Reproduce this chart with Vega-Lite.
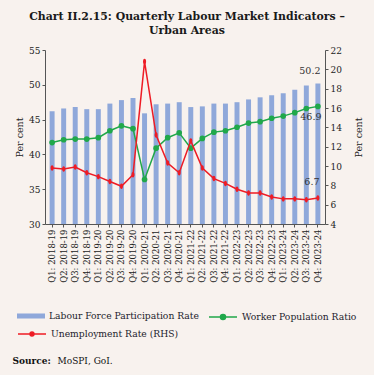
{
  "$schema": "https://vega.github.io/schema/vega-lite/v6.json",
  "autosize": {"type": "none"},
  "width": 280,
  "height": 174,
  "padding": {"left": 45, "top": 50, "right": 49, "bottom": 151},
  "background": "#F8F2EE",
  "title": {
    "text": ["Chart II.2.15: Quarterly Labour Market Indicators –", "Urban Areas"],
    "font": "DejaVu Serif",
    "fontSize": 10.9,
    "fontWeight": "bold",
    "color": "#1a1a1a",
    "anchor": "middle",
    "frame": "group",
    "lineHeight": 14,
    "offset": 10,
    "dx": 2
  },
  "config": {
    "view": {"stroke": null},
    "axis": {
      "grid": false,
      "labelFont": "DejaVu Serif",
      "labelFontSize": 9,
      "labelColor": "#222",
      "labelOverlap": false,
      "titleFont": "DejaVu Serif",
      "titleFontSize": 9.5,
      "titleFontWeight": "normal",
      "titleColor": "#222",
      "domainColor": "#555",
      "tickColor": "#555",
      "tickSize": 3,
      "labelPadding": 2
    },
    "legend": {
      "labelFont": "DejaVu Serif",
      "labelFontSize": 9.2,
      "labelColor": "#1c1c2c",
      "labelOffset": 4,
      "padding": 0,
      "title": null
    }
  },
  "data": {
    "values": [
      {"q": "Q1: 2018-19", "lfpr": 46.2, "wpr": 41.7, "ur": 9.8},
      {"q": "Q2: 2018-19", "lfpr": 46.6, "wpr": 42.1, "ur": 9.7},
      {"q": "Q3: 2018-19", "lfpr": 46.8, "wpr": 42.2, "ur": 9.9},
      {"q": "Q4: 2018-19", "lfpr": 46.5, "wpr": 42.2, "ur": 9.3},
      {"q": "Q1: 2019-20", "lfpr": 46.5, "wpr": 42.4, "ur": 8.9},
      {"q": "Q2: 2019-20", "lfpr": 47.3, "wpr": 43.4, "ur": 8.4},
      {"q": "Q3: 2019-20", "lfpr": 47.8, "wpr": 44.1, "ur": 7.9},
      {"q": "Q4: 2019-20", "lfpr": 48.1, "wpr": 43.7, "ur": 9.1},
      {"q": "Q1: 2020-21", "lfpr": 45.9, "wpr": 36.4, "ur": 20.8},
      {"q": "Q2: 2020-21", "lfpr": 47.2, "wpr": 40.9, "ur": 13.2},
      {"q": "Q3: 2020-21", "lfpr": 47.3, "wpr": 42.4, "ur": 10.3},
      {"q": "Q4: 2020-21", "lfpr": 47.5, "wpr": 43.1, "ur": 9.3},
      {"q": "Q1: 2021-22", "lfpr": 46.8, "wpr": 40.9, "ur": 12.6},
      {"q": "Q2: 2021-22", "lfpr": 46.9, "wpr": 42.3, "ur": 9.8},
      {"q": "Q3: 2021-22", "lfpr": 47.3, "wpr": 43.2, "ur": 8.7},
      {"q": "Q4: 2021-22", "lfpr": 47.3, "wpr": 43.4, "ur": 8.2},
      {"q": "Q1: 2022-23", "lfpr": 47.5, "wpr": 43.9, "ur": 7.6},
      {"q": "Q2: 2022-23", "lfpr": 47.9, "wpr": 44.5, "ur": 7.2},
      {"q": "Q3: 2022-23", "lfpr": 48.2, "wpr": 44.7, "ur": 7.2},
      {"q": "Q4: 2022-23", "lfpr": 48.5, "wpr": 45.2, "ur": 6.8},
      {"q": "Q1: 2023-24", "lfpr": 48.8, "wpr": 45.5, "ur": 6.6},
      {"q": "Q2: 2023-24", "lfpr": 49.3, "wpr": 46.0, "ur": 6.6},
      {"q": "Q3: 2023-24", "lfpr": 49.9, "wpr": 46.6, "ur": 6.5},
      {"q": "Q4: 2023-24", "lfpr": 50.2, "wpr": 46.9, "ur": 6.7}
    ]
  },
  "layer": [
    {
      "resolve": {"scale": {"color": "independent"}, "legend": {"color": "independent"}},
      "layer": [
        {
          "mark": {"type": "bar"},
          "encoding": {
            "x": {
              "field": "q", "type": "nominal", "sort": null,
              "scale": {"paddingInner": 0.57, "paddingOuter": 0.4},
              "axis": {
                "orient": "bottom",
                "labelAngle": -90,
                "labelFontSize": 8.5,
                "title": "MoSPI, GoI.",
                "titleX": 12,
                "titleY": 139,
                "titleAlign": "left",
                "titleAngle": 0,
                "titleBaseline": "alphabetic",
                "titleFontSize": 9,
                "titleColor": "#111"
              }
            },
            "y": {
              "field": "lfpr", "type": "quantitative",
              "scale": {"domain": [30, 55], "zero": false, "nice": false},
              "axis": {"orient": "left", "title": "Per cent", "values": [30, 35, 40, 45, 50, 55], "tickCount": 6, "titlePadding": 4}
            },
            "y2": {"datum": 30},
            "color": {
              "datum": "Labour Force Participation Rate",
              "scale": {"range": ["#8FA8DA"]},
              "legend": {
                "orient": "none", "legendX": -28, "legendY": 252,
                "symbolType": "M-1,-0.18H1V0.18H-1Z",
                "symbolSize": 784,
                "symbolStrokeWidth": 0
              }
            }
          }
        },
        {
          "mark": {"type": "line", "strokeWidth": 1.5, "point": {"filled": true, "size": 32}},
          "encoding": {
            "x": {"field": "q", "type": "nominal", "sort": null},
            "y": {
              "field": "wpr", "type": "quantitative",
              "axis": {"orient": "left", "title": "Per cent", "values": [30, 35, 40, 45, 50, 55], "tickCount": 6, "titlePadding": 4}
            },
            "color": {
              "datum": "Worker Population Ratio",
              "scale": {"range": ["#20A84A"]},
              "legend": {
                "orient": "none", "legendX": 163, "legendY": 252,
                "symbolType": "M-1,0H1M-0.18,0A0.18,0.18 0 1,1 0.18,0A0.18,0.18 0 1,1 -0.18,0Z",
                "symbolSize": 784,
                "symbolStrokeWidth": 1.5,
                "symbolFillColor": "#20A84A",
                "symbolStrokeColor": "#20A84A"
              }
            }
          }
        },
        {
          "transform": [{"filter": "datum.q === 'Q4: 2023-24'"}],
          "mark": {"type": "text", "font": "DejaVu Serif", "fontSize": 9.5, "color": "#333", "baseline": "alphabetic", "dx": -8, "dy": -9},
          "encoding": {
            "x": {"field": "q", "type": "nominal", "sort": null},
            "y": {
              "field": "lfpr", "type": "quantitative",
              "axis": {"orient": "left", "title": "Per cent", "values": [30, 35, 40, 45, 50, 55], "tickCount": 6, "titlePadding": 4}
            },
            "text": {"field": "lfpr", "type": "quantitative", "format": ".1f"}
          }
        },
        {
          "transform": [{"filter": "datum.q === 'Q4: 2023-24'"}],
          "mark": {"type": "text", "font": "DejaVu Serif", "fontSize": 9.5, "color": "#333", "baseline": "alphabetic", "dx": -7, "dy": 13.5},
          "encoding": {
            "x": {"field": "q", "type": "nominal", "sort": null},
            "y": {
              "field": "wpr", "type": "quantitative",
              "axis": {"orient": "left", "title": "Per cent", "values": [30, 35, 40, 45, 50, 55], "tickCount": 6, "titlePadding": 4}
            },
            "text": {"field": "wpr", "type": "quantitative", "format": ".1f"}
          }
        }
      ]
    },
    {
      "layer": [
        {
          "mark": {"type": "line", "strokeWidth": 1.5, "point": {"filled": true, "size": 30, "shape": "M0,-1C0.75,-1 0.75,1 0,1C-0.75,1 -0.75,-1 0,-1Z"}},
          "encoding": {
            "x": {
              "field": "q", "type": "nominal", "sort": null,
              "axis": {
                "orient": "top", "labels": false, "ticks": false, "domain": false,
                "title": "Source:", "titleX": -33, "titleY": 313,
                "titleAlign": "left", "titleAngle": 0, "titleBaseline": "alphabetic",
                "titleFontWeight": "bold", "titleFontSize": 9, "titleColor": "#111"
              }
            },
            "y": {
              "field": "ur", "type": "quantitative",
              "scale": {"domain": [4, 22], "zero": false, "nice": false},
              "axis": {"orient": "right", "title": "Per cent", "values": [4, 6, 8, 10, 12, 14, 16, 18, 20, 22], "tickCount": 10, "titleAngle": -90, "titlePadding": 22}
            },
            "color": {
              "datum": "Unemployment Rate (RHS)",
              "scale": {"range": ["#EE1C25"]},
              "legend": {
                "orient": "none", "legendX": -28, "legendY": 269,
                "symbolType": "M-1,0H1M-0.14,0A0.14,0.14 0 1,1 0.14,0A0.14,0.14 0 1,1 -0.14,0Z",
                "symbolSize": 784,
                "symbolStrokeWidth": 1.5,
                "symbolFillColor": "#EE1C25",
                "symbolStrokeColor": "#EE1C25"
              }
            }
          }
        },
        {
          "transform": [{"filter": "datum.q === 'Q4: 2023-24'"}],
          "mark": {"type": "text", "font": "DejaVu Serif", "fontSize": 9.5, "color": "#333", "baseline": "alphabetic", "dx": -6, "dy": -13},
          "encoding": {
            "x": {"field": "q", "type": "nominal", "sort": null},
            "y": {
              "field": "ur", "type": "quantitative",
              "axis": {"orient": "right", "title": "Per cent", "values": [4, 6, 8, 10, 12, 14, 16, 18, 20, 22], "tickCount": 10, "titleAngle": -90, "titlePadding": 22}
            },
            "text": {"field": "ur", "type": "quantitative", "format": ".1f"}
          }
        }
      ]
    }
  ],
  "resolve": {
    "scale": {"y": "independent", "color": "independent"},
    "axis": {"x": "independent"},
    "legend": {"color": "independent"}
  }
}
